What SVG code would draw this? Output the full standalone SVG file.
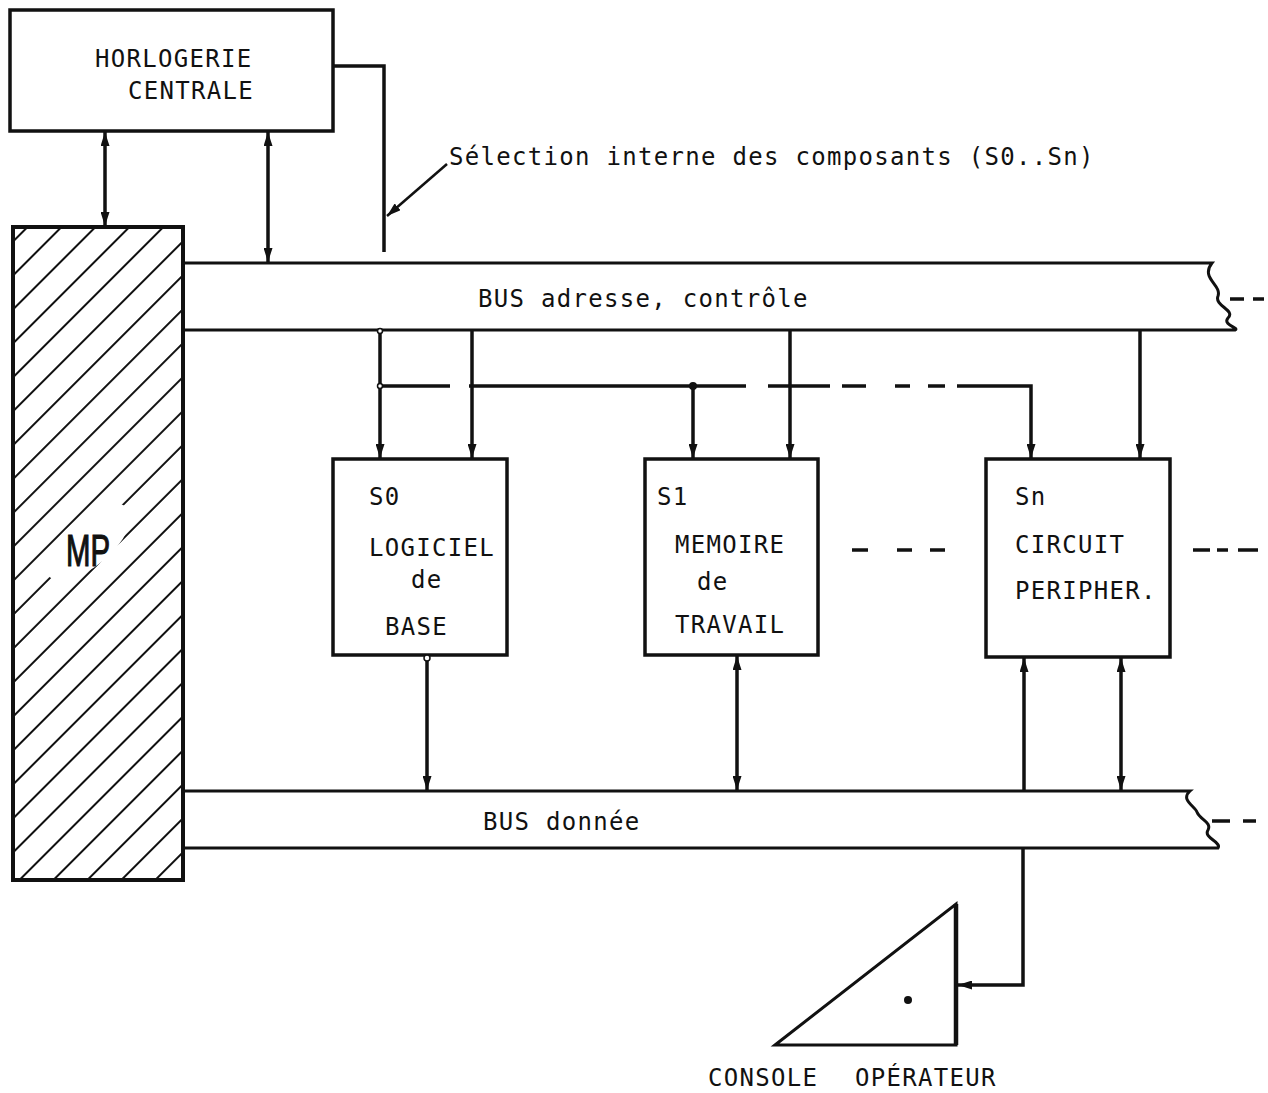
<svg xmlns="http://www.w3.org/2000/svg" width="1268" height="1093" viewBox="0 0 1268 1093">
<style>
text{font-family:"DejaVu Sans Mono","Liberation Mono",monospace;font-size:24px;letter-spacing:1.3px;fill:#111}
.box{fill:#fff;stroke:#111;stroke-width:3.5}
.bus{fill:none;stroke:#111;stroke-width:3}
.c{fill:none;stroke:#111;stroke-width:3.5}
.dot{fill:#fff;stroke:#111;stroke-width:1.5}
</style>
<defs>
<marker id="ah" viewBox="0 0 14 9" refX="14" refY="4.5" markerWidth="14" markerHeight="9" markerUnits="userSpaceOnUse" orient="auto-start-reverse">
<path d="M0,0 L14,4.5 L0,9 z" fill="#111"/>
</marker>
<pattern id="hatch" width="24" height="24" patternUnits="userSpaceOnUse" patternTransform="rotate(-45)">
<line x1="0" y1="12" x2="24" y2="12" stroke="#111" stroke-width="2"/>
</pattern>
</defs>

<g id="horlogerie">
<rect class="box" x="10" y="10" width="323" height="121"/>
<text x="95" y="67">HORLOGERIE</text>
<text x="128" y="99">CENTRALE</text>
</g>

<g id="mp">
<rect x="13" y="227" width="170" height="653" fill="url(#hatch)" stroke="none"/>
<ellipse cx="88" cy="542" rx="52" ry="24" fill="#fff" transform="rotate(-40 88 542)"/>
<rect x="13" y="227" width="170" height="653" fill="none" stroke="#111" stroke-width="4"/>
<text x="66" y="566" style="font-family:'Liberation Sans',sans-serif;font-size:44px;letter-spacing:0;stroke:#111;stroke-width:1.2" textLength="44" lengthAdjust="spacingAndGlyphs">MP</text>
</g>

<g id="bus-adresse">
<path class="bus" d="M183,263 H1212 C1200,278 1222,285 1218,296 C1214,306 1236,310 1228,318 C1222,325 1240,328 1235,330 H183"/>
<path class="c" d="M1230,299 H1244 M1253,299 H1264" stroke-width="2"/>
<text x="478" y="307">BUS adresse, contrôle</text>
</g>

<g id="bus-donnee">
<path class="bus" d="M183,791 H1190 C1180,800 1195,806 1197,812 C1200,820 1212,822 1208,830 C1203,838 1222,842 1218,848 H183"/>
<path class="c" d="M1212,821 H1230 M1243,821 H1256" stroke-width="2"/>
<text x="483" y="830">BUS donnée</text>
</g>

<g id="s0">
<rect class="box" x="333" y="459" width="174" height="196"/>
<text x="369" y="505">S0</text>
<text x="369" y="556">LOGICIEL</text>
<text x="411" y="588">de</text>
<text x="385" y="635">BASE</text>
</g>

<g id="s1">
<rect class="box" x="645" y="459" width="173" height="196"/>
<text x="657" y="505">S1</text>
<text x="675" y="553">MEMOIRE</text>
<text x="697" y="590">de</text>
<text x="675" y="633">TRAVAIL</text>
</g>

<g id="sn">
<rect class="box" x="986" y="459" width="184" height="198"/>
<text x="1015" y="505">Sn</text>
<text x="1015" y="553">CIRCUIT</text>
<text x="1015" y="599">PERIPHER.</text>
</g>

<g id="console">
<polygon points="775,1045 956,904 956,1045" fill="#fff" stroke="#111" stroke-width="3"/>
<line x1="956" y1="904" x2="956" y2="1045" stroke="#111" stroke-width="4.5"/>
<circle cx="908" cy="1000" r="4" fill="#111"/>
<text x="708" y="1086">CONSOLE</text>
<text x="855" y="1086">OPÉRATEUR</text>
</g>

<g id="selection-label">
<text x="449" y="165">Sélection interne des composants (S0..Sn)</text>
</g>

<g id="connectors">
<line class="c" x1="105" y1="132" x2="105" y2="226" marker-start="url(#ah)" marker-end="url(#ah)"/>
<line class="c" x1="268" y1="132" x2="268" y2="262" marker-start="url(#ah)" marker-end="url(#ah)"/>
<path class="c" d="M333,66 H384 V252"/>
<line x1="447" y1="164" x2="387" y2="216" stroke="#111" stroke-width="2.5" marker-end="url(#ah)"/>

<line class="c" x1="380" y1="331" x2="380" y2="458" marker-end="url(#ah)"/>
<line class="c" x1="472" y1="331" x2="472" y2="458" marker-end="url(#ah)"/>
<line class="c" x1="790" y1="331" x2="790" y2="458" marker-end="url(#ah)"/>
<line class="c" x1="1140" y1="331" x2="1140" y2="458" marker-end="url(#ah)"/>
<path class="c" stroke-width="2.5" d="M380,386 H450 M469,386 H746 M768,386 H830"/>
<path class="c" stroke-width="2.5" d="M842,386 H866 M895,386 H910 M928,386 H945"/>
<path class="c" d="M957,386 H1031 V458" marker-end="url(#ah)"/>
<line class="c" x1="693" y1="386" x2="693" y2="458" marker-end="url(#ah)"/>
<circle class="dot" cx="380" cy="331" r="2.5"/>
<circle class="dot" cx="380" cy="386" r="2.5"/>
<circle cx="693" cy="386" r="4" fill="#111"/>

<path class="c" stroke-width="2" d="M852,550 H868 M897,550 H912 M930,550 H945"/>
<path class="c" stroke-width="2" d="M1193,550 H1210 M1217,550 H1228 M1238,550 H1258"/>

<line class="c" x1="427" y1="657" x2="427" y2="790" marker-end="url(#ah)"/>
<circle class="dot" cx="427" cy="658" r="3"/>
<line class="c" x1="737" y1="656" x2="737" y2="790" marker-start="url(#ah)" marker-end="url(#ah)"/>
<line class="c" x1="1024" y1="790" x2="1024" y2="658" marker-end="url(#ah)"/>
<line class="c" x1="1121" y1="658" x2="1121" y2="790" marker-start="url(#ah)" marker-end="url(#ah)"/>
<path class="c" d="M1023,849 V985 H958" marker-end="url(#ah)"/>
</g>
</svg>
